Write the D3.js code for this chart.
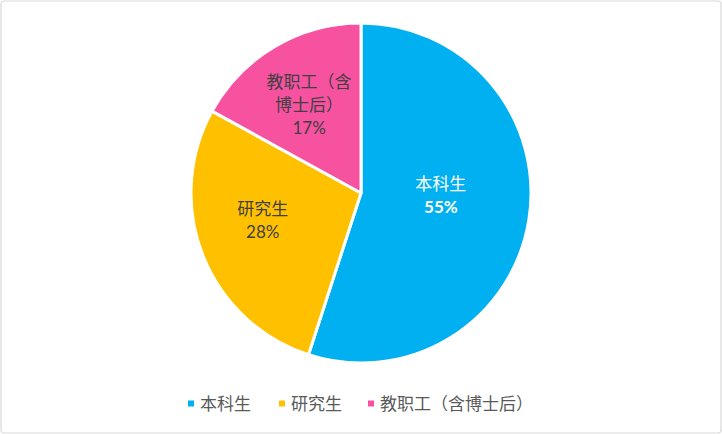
<!DOCTYPE html>
<html><head><meta charset="utf-8">
<script src="https://cdn.jsdelivr.net/npm/d3@7/dist/d3.min.js"></script>
<style>body{margin:0;background:#fff}svg{display:block}</style>
</head><body><svg id="c" width="722" height="434"></svg>
<script>
const categories = ["本科生", "研究生", "教职工（含博士后）"];
const values = [55, 28, 17];
const labelLines = [["本科生"], ["研究生"], ["教职工（含", "博士后）"]];
const colors = ["#00B0F0", "#FFC000", "#F652A0"];
const labelColors = ["#ffffff", "#404040", "#404040"];

const W = 722, H = 434;
const svg = d3.select("#c");
const font = "Lato, 'Noto Sans CJK SC', sans-serif";
svg.append("rect").attr("x",1).attr("y",1).attr("width",W-2).attr("height",H-2)
  .attr("rx",3).attr("fill","#fff").attr("stroke","#d9d9d9").attr("stroke-width",1.2);

const cx = 361, cy = 193, R = 170;
const g = svg.append("g").attr("transform",`translate(${cx},${cy})`);
const pie = d3.pie().sort(null).value(d=>d);
const arcs = pie(values);
const arc = d3.arc().innerRadius(0).outerRadius(R);
g.selectAll("path").data(arcs).enter().append("path")
  .attr("d", arc).attr("fill",(d,i)=>colors[i])
  .attr("stroke","#fff").attr("stroke-width",3).attr("stroke-linejoin","round");

// label placement (layout): radius fraction and angle tweak per slice
const labelR = [0.47, 0.6, 0.6];
const labelDA = [-7, 6, 0];
const lineH = 23;
arcs.forEach((d,i)=>{
  const a = ((d.startAngle+d.endAngle)/2) + labelDA[i]*Math.PI/180;
  const r = R*labelR[i];
  const x = Math.sin(a)*r, y = -Math.cos(a)*r;
  const lines = labelLines[i].concat([Math.round(d.data)+"%"]);
  const n = lines.length;
  const t = g.append("text").attr("text-anchor","middle").attr("font-family",font)
    .attr("font-size",17).attr("fill",labelColors[i]);
  lines.forEach((s,k)=>{
    t.append("tspan").attr("x",x).attr("y", y + (k-(n-1)/2)*lineH)
      .attr("dy","0.35em").text(s)
      .attr("font-weight", k===n-1 && i===0 ? "bold" : (k===n-1 ? "normal":"normal"));
  });
});

// legend
const legendX = [188, 279, 368];
const legendY = 404;
const lg = svg.append("g");
categories.forEach((c,i)=>{
  lg.append("rect").attr("x",legendX[i]).attr("y",legendY-3.5).attr("width",6).attr("height",6)
    .attr("fill",colors[i]);
  lg.append("text").attr("x",legendX[i]+12).attr("y",legendY).attr("dy","0.35em")
    .attr("font-family",font).attr("font-size",17).attr("fill","#595959").text(c);
});
</script></body></html>
